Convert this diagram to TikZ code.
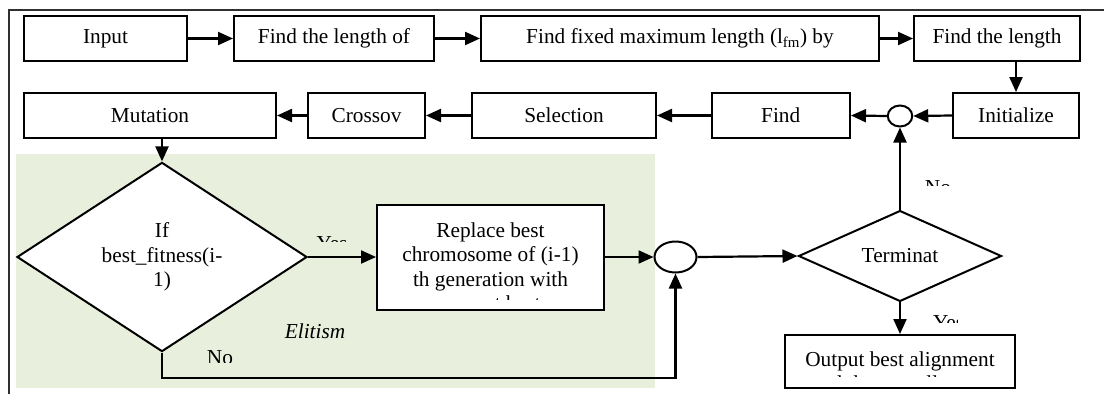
\documentclass[tikz,border=0pt]{standalone}
\usepackage{fontspec}
\setmainfont{Liberation Serif}
\usetikzlibrary{shapes.geometric,arrows.meta,calc}
\definecolor{elitegreen}{HTML}{E8EFDC}
\definecolor{framegray}{HTML}{303030}
\begin{document}
\begin{tikzpicture}[x=1pt,y=-1pt,
  font=\fontsize{21.3}{24.5}\selectfont,
  box/.style={draw=black, line width=2pt, fill=white, inner sep=0pt, align=center},
  dec/.style={diamond, draw=black, line width=2pt, fill=white, inner sep=0pt, align=center},
  junc/.style={ellipse, draw=black, line width=2pt, fill=white, inner sep=0pt},
  arr/.style={line width=2.2pt, -{Triangle[length=15pt,width=13pt]}},
  lbl/.style={inner sep=0pt, anchor=base}]
\useasboundingbox (0,0) rectangle (1104,394);
% frame and elitism region
\draw[framegray, line width=2pt] (9,394) -- (9,9.5) -- (1104,9.5);
\fill[elitegreen] (16,154) rectangle (655,388);
% row 1
\node[box, minimum width=163pt, minimum height=45pt] (in) at (105.5,38.5) {Input};
\node[box, minimum width=200pt, minimum height=45pt] (len) at (334,38.5) {Find the length of};
\node[box, minimum width=398pt, minimum height=45pt] (fix) at (680,38.5) {Find fixed maximum length (l\textsubscript{fm}) by};
\node[box, minimum width=166pt, minimum height=45pt] (flen) at (997,38.5) {Find the length};
% row 2
\node[box, minimum width=252pt, minimum height=45pt] (mut) at (150,115.5) {Mutation};
\node[box, minimum width=117pt, minimum height=45pt] (cro) at (366.5,115.5) {Crossov};
\node[box, minimum width=184pt, minimum height=45pt] (sel) at (564,115.5) {Selection};
\node[box, minimum width=138.5pt, minimum height=45pt] (fnd) at (780.75,115.5) {Find};
\node[junc, minimum width=24.5pt, minimum height=21pt] (c1) at (900,116) {};
\node[box, minimum width=126pt, minimum height=45pt] (ini) at (1016,115.5) {Initialize};
% lower part
\node[dec, minimum width=290pt, minimum height=178pt] (d1) at (162,257) {If\\best\_fitness(i-\\1)};
\node[box, minimum width=227pt, minimum height=105pt] (rep) at (490.5,257.5) {};
\node[junc, minimum width=42pt, minimum height=31pt] (c2) at (675.5,257) {};
\node[dec, minimum width=203pt, minimum height=88pt] (term) at (900,256) {Terminat};
\node[box, minimum width=230pt, minimum height=53pt] (out) at (900,361.5) {};
% clipped texts
\begin{scope}
\clip (377,205) rectangle (604,299);
\node[lbl] (rep1) at (490.5,237) {Replace best};
\node[lbl] (rep2) at (490.5,261.5) {chromosome of (i-1)};
\node[lbl] (rep3) at (490.5,286) {th generation with};
\node[lbl] (rep4) at (490.5,310.5) {current best};
\end{scope}
\begin{scope}
\clip (785,335) rectangle (1015,376);
\node[lbl] (out1) at (900,366) {Output best alignment};
\node[lbl] (out2) at (900,390.5) {and the overall score};
\end{scope}
\begin{scope}
\clip (300,225) rectangle (370,241);
\node[lbl] (yes1) at (332,250) {Yes};
\end{scope}
\begin{scope}
\clip (195,340) rectangle (250,362);
\node[lbl] (no1) at (220,364) {No};
\end{scope}
\begin{scope}
\clip (915,170) rectangle (965,185);
\node[lbl] (no2) at (938,194) {No};
\end{scope}
\begin{scope}
\clip (925,305) rectangle (957,322);
\node[lbl, anchor=base west] (yes2) at (933,329) {Yes};
\end{scope}
\node[lbl, font=\fontsize{21.3}{24.5}\selectfont\itshape] (elit) at (315,338) {Elitism};
% connectors
\draw[arr] (in) -- (len);
\draw[arr] (len) -- (fix);
\draw[arr] (fix) -- (flen);
\draw[arr] (ini.north |- flen.south) -- (ini.north);
\draw[arr] (ini.west) -- (c1.east);
\draw[arr] (c1.west) -- (fnd.east);
\draw[arr] (fnd) -- (sel);
\draw[arr] (sel) -- (cro);
\draw[arr] (cro) -- (mut);
\draw[arr] (d1.north |- mut.south) -- (d1.north);
\draw[arr] (d1.east) -- (rep.west |- d1.east);
\draw[arr] (rep.east |- c2.west) -- (c2.west);
\coordinate (nocorner) at (162,378);
\draw[arr] (d1.south) -- (nocorner) -| (c2.south);
\draw[arr] (c2.east) -- (term.west);
\draw[arr] (term.north) -- (c1.south);
\draw[arr] (term.south) -- (out.north);
\end{tikzpicture}
\end{document}
